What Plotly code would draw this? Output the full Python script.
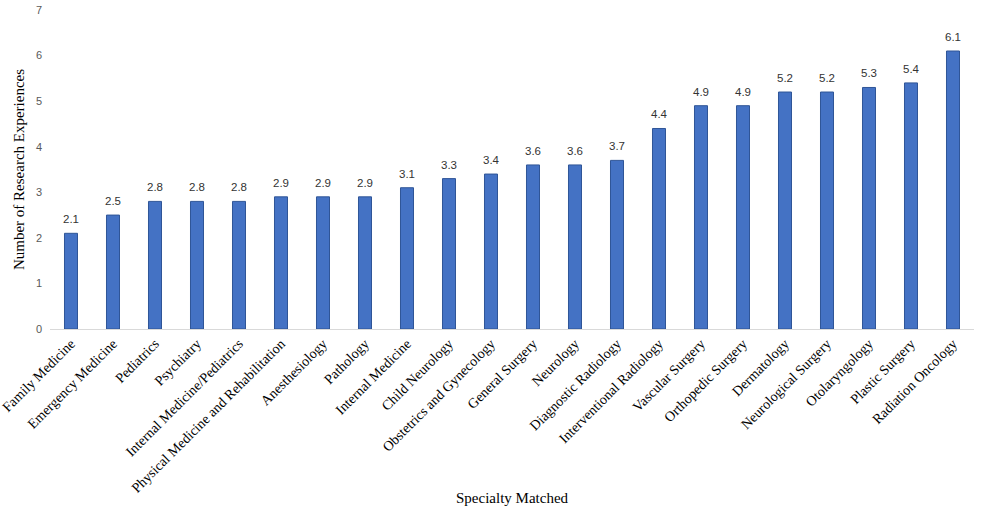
import plotly.graph_objects as go

specialties = [
    "Family Medicine", "Emergency Medicine", "Pediatrics", "Psychiatry",
    "Internal Medicine/Pediatrics", "Physical Medicine and Rehabilitation",
    "Anesthesiology", "Pathology", "Internal Medicine", "Child Neurology",
    "Obstetrics and Gynecology", "General Surgery", "Neurology",
    "Diagnostic Radiology", "Interventional Radiology", "Vascular Surgery",
    "Orthopedic Surgery", "Dermatology", "Neurological Surgery",
    "Otolaryngology", "Plastic Surgery", "Radiation Oncology",
]
values = [2.1, 2.5, 2.8, 2.8, 2.8, 2.9, 2.9, 2.9, 3.1, 3.3, 3.4,
          3.6, 3.6, 3.7, 4.4, 4.9, 4.9, 5.2, 5.2, 5.3, 5.4, 6.1]
y_ticks = [0, 1, 2, 3, 4, 5, 6, 7]

fig = go.Figure()
fig.add_trace(go.Bar(
    x=specialties, y=values, width=0.31,
    marker=dict(color="#4472C4", line=dict(color="#2F5597", width=1)),
    hoverinfo="x+y",
))
for s, v in zip(specialties, values):
    fig.add_annotation(x=s, y=v, text=f"{v:.1f}", showarrow=False,
                       yanchor="bottom", yshift=6,
                       font=dict(family="Liberation Sans, Arial", size=11.5, color="#333333"))

fig.add_annotation(x=0.5, y=-0.56, xref="paper", yref="paper",
                   text="Specialty Matched", showarrow=False,
                   font=dict(family="Liberation Serif, Times New Roman", size=15, color="#000"))

fig.update_layout(
    width=986, height=518,
    margin=dict(l=50, r=12, t=10, b=189),
    paper_bgcolor="white", plot_bgcolor="white",
    showlegend=False,
    xaxis=dict(
        tickangle=-45, showline=True, linecolor="#D9D9D9", linewidth=1,
        showgrid=False, ticks="", automargin=False,
        tickfont=dict(family="Liberation Serif, Times New Roman", size=14, color="#000"),
    ),
    yaxis=dict(
        range=[0, 7], tickvals=y_ticks, showgrid=False, zeroline=False,
        showline=False, ticks="", automargin=False, ticklabelstandoff=7,
        tickfont=dict(family="Liberation Sans, Arial", size=11, color="#595959"),
        title=dict(text="Number of Research Experiences", standoff=7,
                   font=dict(family="Liberation Serif, Times New Roman", size=15, color="#000")),
    ),
)
fig.write_html("out.html")
